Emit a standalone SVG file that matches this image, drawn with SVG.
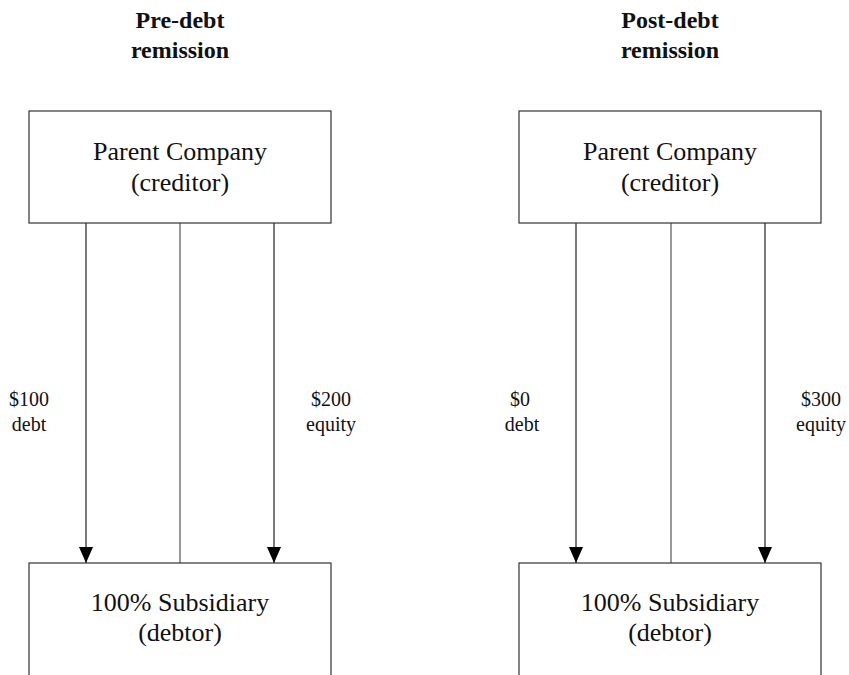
<svg xmlns="http://www.w3.org/2000/svg" width="849" height="675" viewBox="0 0 849 675">
<style>
.box{fill:#fff;stroke:#333;stroke-width:1.2}
.t{font-family:"Liberation Serif","Times New Roman",serif;fill:#111;text-anchor:middle}
.main{font-size:26px}
.lab{font-size:20px}
.title{font-size:24px;font-weight:bold}
.ln{stroke:#222;stroke-width:1.2;fill:none}
.mid{stroke:#555;stroke-width:1.2;fill:none}
</style>
<defs>
<marker id="ah" viewBox="0 0 16 14" refX="16" refY="7" markerWidth="16" markerHeight="14" markerUnits="userSpaceOnUse" orient="auto">
<path d="M0,0 L16,7 L0,14 Z" fill="#000"/>
</marker>
</defs>
<rect width="849" height="675" fill="#fff"/>
<g id="title-pre"><text class="t title" x="180" y="28">Pre-debt</text><text class="t title" x="180" y="58">remission</text></g>
<g id="title-post"><text class="t title" x="670" y="28">Post-debt</text><text class="t title" x="670" y="58">remission</text></g>
<g id="connectors">
<line class="ln" x1="86" y1="223" x2="86" y2="563" marker-end="url(#ah)"/>
<line class="mid" x1="180" y1="223" x2="180" y2="563"/>
<line class="ln" x1="274" y1="223" x2="274" y2="563" marker-end="url(#ah)"/>
<line class="ln" x1="576" y1="223" x2="576" y2="563" marker-end="url(#ah)"/>
<line class="mid" x1="671" y1="223" x2="671" y2="563"/>
<line class="ln" x1="765" y1="223" x2="765" y2="563" marker-end="url(#ah)"/>
</g>
<g id="parent-pre"><rect class="box" x="29" y="111" width="302" height="112"/><text class="t main" x="180" y="160">Parent Company</text><text class="t main" x="180" y="191">(creditor)</text></g>
<g id="parent-post"><rect class="box" x="519" y="111" width="302" height="112"/><text class="t main" x="670" y="160">Parent Company</text><text class="t main" x="670" y="191">(creditor)</text></g>
<g id="sub-pre"><rect class="box" x="29" y="563" width="302" height="140"/><text class="t main" x="180" y="611">100% Subsidiary</text><text class="t main" x="180" y="641">(debtor)</text></g>
<g id="sub-post"><rect class="box" x="519" y="563" width="302" height="140"/><text class="t main" x="670" y="611">100% Subsidiary</text><text class="t main" x="670" y="641">(debtor)</text></g>
<g id="labels">
<text class="t lab" x="29" y="406">$100</text><text class="t lab" x="29" y="431">debt</text>
<text class="t lab" x="331" y="406">$200</text><text class="t lab" x="331" y="431">equity</text>
<text class="t lab" x="520" y="406">$0</text><text class="t lab" x="522" y="431">debt</text>
<text class="t lab" x="821" y="406">$300</text><text class="t lab" x="821" y="431">equity</text>
</g>
</svg>
